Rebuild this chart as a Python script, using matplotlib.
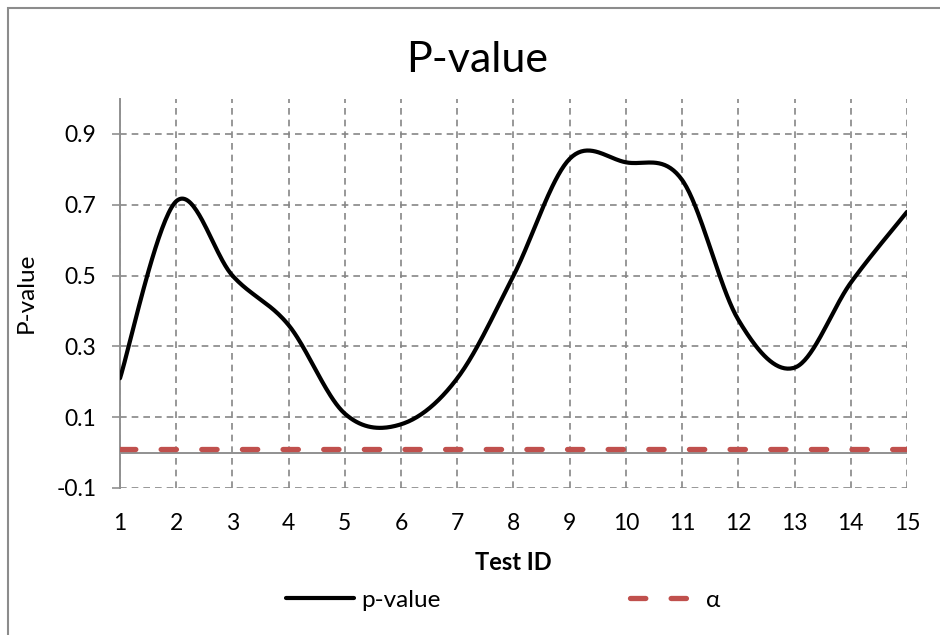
import matplotlib
matplotlib.use("Agg")
import matplotlib.pyplot as plt
import numpy as np
from matplotlib.patches import Rectangle

# data
test_id = [1, 2, 3, 4, 5, 6, 7, 8, 9, 10, 11, 12, 13, 14, 15]
p_value = [0.21, 0.71, 0.50, 0.36, 0.11, 0.08, 0.21, 0.50, 0.83, 0.82, 0.77, 0.375, 0.24, 0.48, 0.68]
alpha = [0.01] * len(test_id)
y_ticks = [-0.1, 0.1, 0.3, 0.5, 0.7, 0.9]

plt.rcParams['font.family'] = ['Lato', 'DejaVu Sans']


def smooth(x, y, n=40):
    # excel-like smoothed line: cubic bezier through each point
    x = np.asarray(x, float)
    y = np.asarray(y, float)
    px = np.concatenate([[x[0]], x, [x[-1]]])
    py = np.concatenate([[y[0]], y, [y[-1]]])
    xs, ys = [], []
    t = np.linspace(0, 1, n)
    for i in range(1, len(px) - 2):
        p0 = np.array([px[i], py[i]])
        p3 = np.array([px[i + 1], py[i + 1]])
        c1 = p0 + (np.array([px[i + 1], py[i + 1]]) - np.array([px[i - 1], py[i - 1]])) / 6
        c2 = p3 - (np.array([px[i + 2], py[i + 2]]) - np.array([px[i], py[i]])) / 6
        b = ((1 - t) ** 3)[:, None] * p0 + (3 * (1 - t) ** 2 * t)[:, None] * c1 \
            + (3 * (1 - t) * t ** 2)[:, None] * c2 + (t ** 3)[:, None] * p3
        xs.extend(b[:, 0])
        ys.extend(b[:, 1])
    return xs, ys


fig = plt.figure(figsize=(9.4, 6.35), dpi=100)
ax = fig.add_axes([120 / 940, 1 - 488 / 635, (907 - 120) / 940, (488 - 98.6) / 635])

grid_col = '#868686'
sx, sy = smooth(test_id, p_value)
ax.plot(sx, sy, color='black', lw=3.0, solid_capstyle='round', label='p-value', zorder=4)
al, = ax.plot(test_id, alpha, color='#C0504D', lw=3.8, dash_capstyle='round', label='α', zorder=3)
al.set_dashes([2.9, 4.8])

ax.set_xlim(1, 15)
ax.set_ylim(-0.1, 1.0)
ax.set_xticks(test_id)
ax.set_yticks(y_ticks)
ax.set_yticklabels(['%g' % v for v in y_ticks])
ax.grid(True, color=grid_col, lw=1.2, linestyle=(0, (4, 3)))
ax.axhline(0, color='#909090', lw=1.4, zorder=2)
for s in ['top', 'right', 'bottom']:
    ax.spines[s].set_visible(False)
ax.spines['left'].set_color('#909090')
ax.spines['left'].set_linewidth(1.4)
ax.tick_params(axis='y', length=6, width=1.2, color='#909090', labelsize=16.5, pad=11)
ax.tick_params(axis='x', length=0, labelsize=16.5, pad=18)

ax.set_xlabel('Test ID', fontsize=17, fontweight='bold', labelpad=12)
ax.set_ylabel('P-value', fontsize=17.5, labelpad=14)
fig.text(0.508, 0.905, 'P-value', ha='center', va='center', fontsize=31)

fig.legend(loc='center', bbox_to_anchor=(0.535, 0.055), ncol=2, frameon=False,
           fontsize=17.5, handlelength=2.8, handletextpad=0.3, columnspacing=7.8)

fig.patches.append(Rectangle((8 / 940, -0.1), 1.2, 1 - 8 / 635 + 0.1, transform=fig.transFigure,
                             fill=False, edgecolor='#8c8c8c', lw=1.5))

fig.savefig('out.png', dpi=100)
